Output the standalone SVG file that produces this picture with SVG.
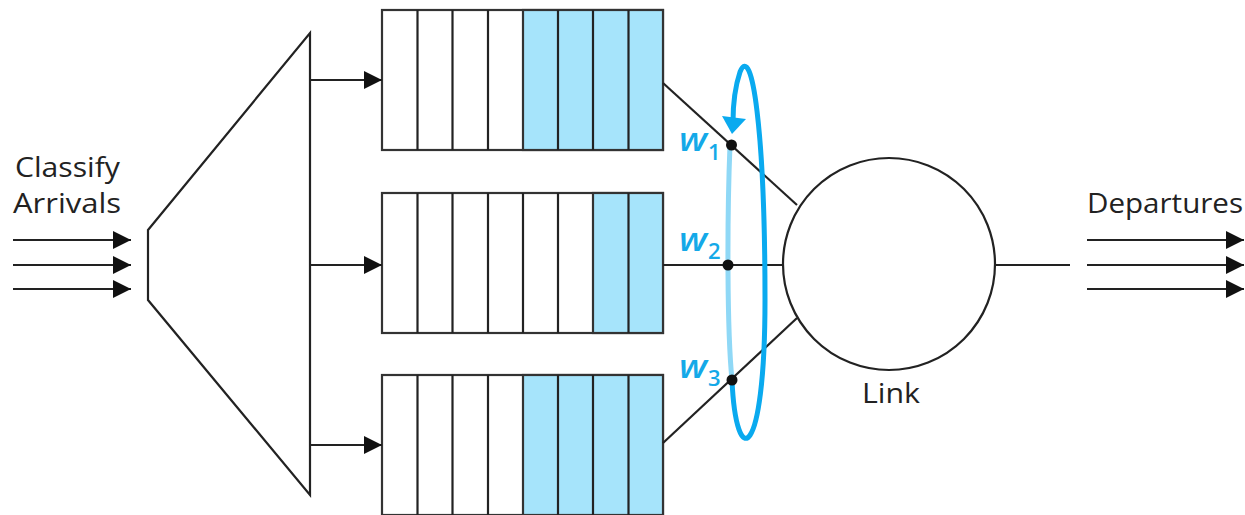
<svg xmlns="http://www.w3.org/2000/svg" width="1245" height="515" viewBox="0 0 1245 515">
<defs>
<marker id="ah" viewBox="0 0 18 18" refX="18" refY="9" markerWidth="18" markerHeight="18" markerUnits="userSpaceOnUse" orient="auto"><path d="M0,0 L18,9 L0,18 Z" fill="#111"/></marker>
<style>
.ln{stroke:#222;stroke-width:2.2;fill:none}
.cell{stroke:#333;stroke-width:2.2;fill:#fff}
.b{fill:#a6e4fb}
.t{font-family:"Open Sans","Noto Sans",sans-serif;font-size:27px;fill:#222}
.w{font-family:"Open Sans","Noto Sans",sans-serif;font-style:italic;font-weight:600;font-size:32px;fill:#14a9e8}
.s{font-family:"Open Sans","Noto Sans",sans-serif;font-weight:600;font-size:22px;fill:#14a9e8}
</style>
</defs>
<rect width="1245" height="515" fill="#fff"/>
<g id="classifier">
<polygon points="148,230 310,33 310,495 148,300" fill="#fff" stroke="#222" stroke-width="2.2"/>
</g>
<g id="queue1">
<rect x="382" y="10" width="281" height="140" class="cell"/>
<rect x="523" y="10" width="140" height="140" class="cell b"/>
<path d="M417.5,10V150M452.5,10V150M488,10V150M558,10V150M593,10V150M628.5,10V150" class="ln" stroke="#333"/>
</g>
<g id="queue2">
<rect x="382" y="193" width="281" height="140" class="cell"/>
<rect x="593" y="193" width="70" height="140" class="cell b"/>
<path d="M417.5,193V333M452.5,193V333M488,193V333M523,193V333M558,193V333M628.5,193V333" class="ln" stroke="#333"/>
</g>
<g id="queue3">
<rect x="382" y="375" width="281" height="140" class="cell"/>
<rect x="523" y="375" width="140" height="140" class="cell b"/>
<path d="M417.5,375V515M452.5,375V515M488,375V515M558,375V515M593,375V515M628.5,375V515" class="ln" stroke="#333"/>
</g>
<g id="link">
<circle cx="889" cy="264" r="106" fill="#fff" stroke="#222" stroke-width="2.2"/>
<text x="862" y="403" class="t" textLength="58" lengthAdjust="spacingAndGlyphs">Link</text>
</g>
<g id="labels">
<text x="15" y="177" class="t" textLength="105" lengthAdjust="spacingAndGlyphs">Classify</text>
<text x="13" y="213" class="t" textLength="108" lengthAdjust="spacingAndGlyphs">Arrivals</text>
<text x="1087" y="213" class="t" textLength="156" lengthAdjust="spacingAndGlyphs">Departures</text>
</g>
<g id="connectors">
<line x1="13" y1="240" x2="131" y2="240" class="ln" marker-end="url(#ah)"/>
<line x1="13" y1="265" x2="131" y2="265" class="ln" marker-end="url(#ah)"/>
<line x1="13" y1="289" x2="131" y2="289" class="ln" marker-end="url(#ah)"/>
<line x1="310" y1="80" x2="382" y2="80" class="ln" marker-end="url(#ah)"/>
<line x1="310" y1="265" x2="382" y2="265" class="ln" marker-end="url(#ah)"/>
<line x1="310" y1="445" x2="382" y2="445" class="ln" marker-end="url(#ah)"/>
<line x1="663" y1="83" x2="797" y2="205" class="ln"/>
<line x1="663" y1="265" x2="783" y2="265" class="ln"/>
<line x1="663" y1="443" x2="797" y2="318" class="ln"/>
<line x1="996" y1="265" x2="1070" y2="265" class="ln"/>
<line x1="1087" y1="240" x2="1244" y2="240" class="ln" marker-end="url(#ah)"/>
<line x1="1087" y1="265" x2="1244" y2="265" class="ln" marker-end="url(#ah)"/>
<line x1="1087" y1="289" x2="1244" y2="289" class="ln" marker-end="url(#ah)"/>
</g>
<g id="weights">
<path d="M730,145 C727,220 727,330 732,380" fill="none" stroke="#8fd8f6" stroke-width="5"/>
<path d="M732,380 C736,472 765,462 765,300 C765,130 752,42 740,72 C734,90 733,110 733,122" fill="none" stroke="#0aaaef" stroke-width="5"/>
<path d="M722,116 L746,119 L732,134 Z" fill="#0aaaef"/>
<circle cx="731.5" cy="145" r="5.5" fill="#111"/>
<circle cx="728" cy="265" r="5.5" fill="#111"/>
<circle cx="732" cy="380" r="5.5" fill="#111"/>
<text x="679" y="151" class="w" textLength="28" lengthAdjust="spacingAndGlyphs">w</text><text x="708" y="160" class="s">1</text>
<text x="679" y="251" class="w" textLength="28" lengthAdjust="spacingAndGlyphs">w</text><text x="708" y="259" class="s">2</text>
<text x="679" y="378" class="w" textLength="28" lengthAdjust="spacingAndGlyphs">w</text><text x="708" y="386" class="s">3</text>
</g>
</svg>
